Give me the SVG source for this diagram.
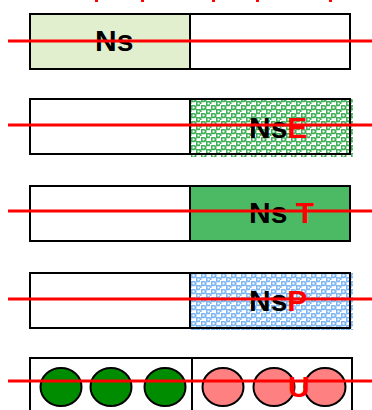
<svg xmlns="http://www.w3.org/2000/svg" width="372" height="410" viewBox="0 0 372 410">
<style>
.box{stroke:#000;stroke-width:2;fill:#fff}
.lbl{font-family:"Liberation Sans",Arial,sans-serif;font-weight:bold;font-size:30px;fill:#000}
.red{fill:#f00}
.rl{stroke:#f00;stroke-width:3;fill:none}
.gc{fill:#008c00;stroke:#000;stroke-width:2}
.pc{fill:#ff8080;stroke:#000;stroke-width:2}
</style>
<defs>
<path id="drop" d="M0,0 h3 a2.6,2.6 0 0 1 0,5.2 h-3 z M1.5,1.6 v1.8 h1.3 a0.9,0.9 0 0 0 0,-1.8 z" fill-rule="evenodd"/>
<pattern id="pg" width="10" height="8" patternUnits="userSpaceOnUse">
<rect width="10" height="8" fill="#fff"/>
<g fill="#3fb058">
<use href="#drop" x="1" y="1"/>
<use href="#drop" x="6" y="5"/>
<use href="#drop" x="6" y="-3"/>
<use href="#drop" x="-4" y="5"/>
</g>
</pattern>
<pattern id="pb" width="10" height="8" patternUnits="userSpaceOnUse">
<rect width="10" height="8" fill="#fff"/>
<g fill="#7eb6f2">
<use href="#drop" x="1" y="1"/>
<use href="#drop" x="6" y="5"/>
<use href="#drop" x="6" y="-3"/>
<use href="#drop" x="-4" y="5"/>
</g>
</pattern>
</defs>
<g id="topmarks">
<rect class="red" x="95" y="0" width="3" height="2"/>
<rect class="red" x="141" y="0" width="3" height="2"/>
<rect class="red" x="212" y="0" width="3" height="2"/>
<rect class="red" x="256" y="0" width="3" height="2"/>
<rect class="red" x="329" y="0" width="3" height="2"/>
</g>
<g id="row1">
<rect class="box" x="30" y="14" width="160" height="55" style="fill:#e2efcf"/>
<rect class="box" x="190" y="14" width="160" height="55"/>
<text class="lbl" x="95" y="51">Ns</text>
</g>
<g id="row2">
<rect class="box" x="30" y="99" width="160" height="55"/>
<rect x="190" y="99" width="163" height="58" fill="url(#pg)"/>
<rect class="box" x="190" y="99" width="160" height="55" style="fill:none"/>
<text class="lbl" x="249" y="138">Ns<tspan class="red">E</tspan></text>
</g>
<g id="row3">
<rect class="box" x="30" y="186" width="160" height="55"/>
<rect class="box" x="190" y="186" width="160" height="55" style="fill:#4cb964"/>
<text class="lbl" x="249" y="223">Ns <tspan class="red">T</tspan></text>
</g>
<g id="row4">
<rect class="box" x="30" y="273" width="160" height="55"/>
<rect x="190" y="273" width="163" height="57" fill="url(#pb)"/>
<rect class="box" x="190" y="273" width="160" height="55" style="fill:none"/>
<text class="lbl" x="249" y="311">Ns<tspan class="red">P</tspan></text>
</g>
<g id="row5">
<rect class="box" x="30" y="358" width="162" height="60"/>
<rect class="box" x="192" y="358" width="160" height="60"/>
<ellipse class="gc" cx="61" cy="387" rx="20.5" ry="19"/>
<ellipse class="gc" cx="111" cy="387" rx="20.5" ry="19"/>
<ellipse class="gc" cx="165" cy="387" rx="20.5" ry="19"/>
<ellipse class="pc" cx="223" cy="387" rx="20.5" ry="19"/>
<ellipse class="pc" cx="274" cy="387" rx="20.5" ry="19"/>
<ellipse class="pc" cx="325" cy="387" rx="20.5" ry="19"/>
</g>
<g id="connectors">
<line class="rl" x1="8" y1="41" x2="372" y2="41"/>
<line class="rl" x1="8" y1="125" x2="372" y2="125"/>
<line class="rl" x1="8" y1="211" x2="372" y2="211"/>
<line class="rl" x1="8" y1="299" x2="372" y2="299"/>
<line class="rl" x1="8" y1="381" x2="372" y2="381"/>
</g>
<text class="lbl red" x="288" y="397">U</text>
</svg>
